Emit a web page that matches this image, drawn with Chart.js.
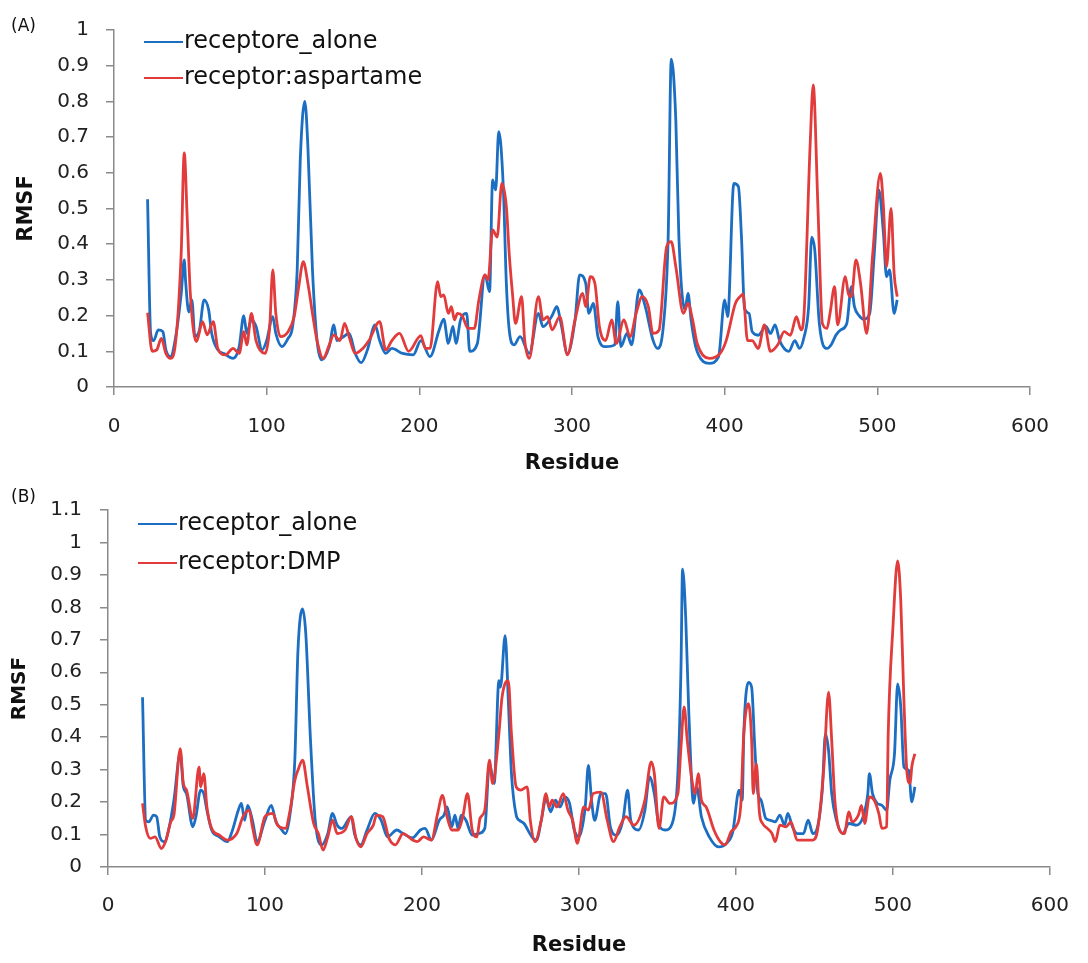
<!DOCTYPE html>
<html>
<head>
<meta charset="utf-8">
<script src="https://cdn.jsdelivr.net/npm/chart.js@4.4.1/dist/chart.umd.min.js"></script>
<style>
  body { margin: 0; background: #fff; }
  .panel { position: absolute; left: 0; }
  #panelA { top: 0; }
  #panelB { top: 480px; }
</style>
</head>
<body>
<div class="panel" id="panelA"><canvas id="chartA" width="1088" height="480"></canvas></div>
<div class="panel" id="panelB"><canvas id="chartB" width="1088" height="483"></canvas></div>
<script>
// panel A: receptor alone vs receptor:aspartame
const aloneResA = [22,24,26,29,32,34,37,40,44,46,47,49,51,53,56,59,62,64,68,72,78,82,85,87,90,93,97,100,104,106,110,114,117,120,122,125,127,130,133,136,141,144,146,150,154,158,162,166,171,174,178,182,189,196,201,207,213,216,219,222,224,227,231,233,238,243,246,248,250,252,255,257,259,262,266,272,278,281,287,290,293,297,302,305,309,311,314,317,322,328,330,332,336,339,344,348,353,356,360,363,365,368,370,374,376,378,381,386,390,396,400,402,406,409,411,413,416,418,422,427,430,433,436,442,446,449,452,455,457,459,462,467,470,473,476,480,483,485,488,491,495,498,501,504,506,508,511,513];
const aloneRmsfA = [0.526,0.15,0.13,0.16,0.155,0.104,0.085,0.13,0.26,0.356,0.29,0.21,0.244,0.141,0.16,0.244,0.216,0.15,0.104,0.094,0.08,0.113,0.2,0.15,0.188,0.17,0.104,0.13,0.197,0.15,0.113,0.136,0.17,0.328,0.636,0.8,0.673,0.328,0.13,0.076,0.113,0.174,0.13,0.14,0.15,0.094,0.068,0.104,0.174,0.13,0.094,0.108,0.094,0.09,0.13,0.085,0.16,0.19,0.122,0.17,0.122,0.188,0.206,0.10,0.122,0.314,0.267,0.58,0.552,0.715,0.56,0.29,0.155,0.118,0.141,0.094,0.206,0.169,0.2,0.225,0.173,0.094,0.188,0.314,0.29,0.206,0.234,0.141,0.113,0.118,0.239,0.113,0.15,0.118,0.272,0.225,0.132,0.108,0.178,0.421,0.918,0.748,0.421,0.216,0.262,0.188,0.113,0.071,0.066,0.085,0.244,0.197,0.57,0.561,0.421,0.22,0.206,0.155,0.145,0.17,0.15,0.174,0.13,0.1,0.13,0.108,0.14,0.225,0.42,0.384,0.178,0.108,0.12,0.146,0.16,0.178,0.281,0.225,0.2,0.19,0.206,0.374,0.552,0.43,0.309,0.328,0.206,0.244];

const aspartameRes = [22,25,28,31,34,37,40,44,46,48,50,54,58,61,65,68,73,78,82,85,87,90,93,99,102,104,106,109,114,118,121,124,127,130,133,137,141,144,148,151,154,158,163,167,174,178,182,187,193,201,204,207,212,214,216,219,221,223,225,228,232,236,239,243,245,248,251,254,257,259,261,263,267,269,272,278,281,284,287,292,297,302,307,309,312,315,318,322,326,329,334,338,342,346,350,353,357,362,365,368,373,376,379,382,390,397,401,407,410,412,415,418,422,426,430,435,439,443,447,450,452,456,458,461,464,467,469,472,474,479,481,483,486,489,493,497,502,504,506,509,511,513];
const aspartameRmsf = [0.208,0.1,0.104,0.136,0.094,0.08,0.113,0.374,0.656,0.468,0.262,0.127,0.183,0.146,0.183,0.108,0.09,0.108,0.094,0.155,0.118,0.206,0.13,0.094,0.17,0.328,0.206,0.141,0.155,0.197,0.281,0.351,0.29,0.206,0.13,0.08,0.118,0.146,0.13,0.178,0.141,0.094,0.108,0.13,0.183,0.104,0.13,0.15,0.1,0.144,0.108,0.108,0.295,0.253,0.258,0.206,0.225,0.188,0.206,0.2,0.164,0.164,0.244,0.314,0.3,0.44,0.42,0.57,0.505,0.365,0.262,0.178,0.253,0.132,0.08,0.253,0.188,0.197,0.16,0.197,0.09,0.188,0.262,0.225,0.309,0.29,0.168,0.13,0.188,0.122,0.188,0.141,0.206,0.253,0.225,0.15,0.159,0.393,0.407,0.337,0.206,0.234,0.188,0.122,0.08,0.094,0.13,0.234,0.253,0.26,0.13,0.13,0.108,0.174,0.1,0.12,0.155,0.145,0.197,0.16,0.206,0.68,0.846,0.515,0.178,0.164,0.206,0.281,0.174,0.309,0.262,0.253,0.356,0.29,0.15,0.374,0.598,0.505,0.337,0.5,0.318,0.253];

// panel B: receptor alone vs receptor:DMP
const aloneResB = [22,24,26,29,31,33,36,39,42,46,48,50,54,56,59,61,63,66,71,76,79,83,85,87,89,92,95,100,104,107,110,113,116,119,121,124,126,129,132,136,140,143,146,149,155,157,161,165,170,174,178,184,188,194,199,202,206,211,214,216,219,221,223,225,228,232,236,240,243,246,249,250,253,255,257,260,262,265,270,273,276,279,282,285,288,291,294,297,300,304,306,308,310,314,317,320,324,328,331,333,338,342,345,348,351,355,360,363,365,366,368,370,373,375,378,383,389,394,398,402,404,405,408,410,412,414,416,419,422,425,428,431,433,436,439,443,446,449,452,455,457,459,461,464,468,472,477,481,484,485,487,490,493,496,498,501,503,505,507,510,512,514];
const aloneRmsfB = [0.523,0.144,0.139,0.16,0.155,0.093,0.078,0.124,0.206,0.35,0.247,0.226,0.124,0.155,0.237,0.226,0.175,0.114,0.093,0.078,0.109,0.175,0.196,0.144,0.19,0.144,0.078,0.144,0.19,0.139,0.119,0.103,0.165,0.329,0.667,0.795,0.718,0.39,0.144,0.068,0.103,0.165,0.129,0.119,0.155,0.103,0.068,0.114,0.165,0.144,0.093,0.114,0.103,0.09,0.114,0.119,0.083,0.144,0.16,0.185,0.124,0.16,0.119,0.16,0.144,0.098,0.103,0.119,0.318,0.257,0.574,0.554,0.713,0.513,0.288,0.16,0.144,0.134,0.093,0.083,0.144,0.211,0.17,0.206,0.185,0.216,0.196,0.114,0.093,0.185,0.313,0.206,0.144,0.226,0.226,0.124,0.098,0.144,0.237,0.144,0.114,0.175,0.278,0.226,0.129,0.114,0.144,0.288,0.615,0.918,0.769,0.472,0.196,0.247,0.155,0.093,0.062,0.073,0.109,0.237,0.206,0.41,0.569,0.554,0.37,0.226,0.206,0.15,0.144,0.139,0.16,0.129,0.165,0.124,0.103,0.103,0.144,0.103,0.124,0.237,0.41,0.359,0.226,0.144,0.103,0.134,0.129,0.155,0.226,0.288,0.226,0.196,0.19,0.175,0.267,0.349,0.564,0.493,0.308,0.298,0.201,0.247];

const dmpRes = [22,24,27,30,34,37,40,42,46,48,50,54,58,59,61,63,66,71,76,82,86,90,92,95,100,105,108,113,116,119,121,124,127,131,134,137,140,143,146,151,155,158,161,165,169,171,175,179,183,188,194,197,201,206,210,213,216,219,223,226,229,232,235,237,240,243,245,249,251,255,257,260,263,267,269,272,276,279,281,283,286,290,293,296,299,303,306,309,314,318,322,326,330,335,342,346,348,351,354,358,363,365,367,369,372,374,376,378,381,386,390,393,397,400,403,405,408,410,411,413,415,417,420,423,425,428,432,435,439,445,449,452,456,459,461,463,466,469,472,474,478,480,482,485,488,491,493,496,497,500,503,505,507,509,511,512,514];
const dmpRmsf = [0.196,0.124,0.088,0.093,0.057,0.083,0.139,0.16,0.365,0.257,0.237,0.15,0.308,0.247,0.288,0.185,0.119,0.098,0.083,0.103,0.155,0.175,0.124,0.068,0.155,0.165,0.129,0.119,0.175,0.267,0.298,0.329,0.247,0.134,0.103,0.052,0.093,0.144,0.103,0.114,0.155,0.088,0.062,0.103,0.129,0.16,0.155,0.088,0.068,0.103,0.083,0.078,0.093,0.083,0.165,0.221,0.155,0.114,0.114,0.155,0.226,0.114,0.093,0.15,0.175,0.329,0.257,0.41,0.523,0.574,0.41,0.247,0.237,0.247,0.144,0.078,0.144,0.226,0.185,0.206,0.185,0.226,0.175,0.144,0.073,0.185,0.175,0.226,0.231,0.144,0.078,0.124,0.155,0.129,0.206,0.324,0.288,0.119,0.216,0.196,0.226,0.37,0.493,0.39,0.267,0.226,0.288,0.206,0.185,0.114,0.078,0.068,0.109,0.124,0.185,0.41,0.503,0.39,0.226,0.318,0.165,0.134,0.119,0.103,0.078,0.129,0.124,0.139,0.083,0.083,0.083,0.114,0.308,0.539,0.39,0.206,0.114,0.103,0.17,0.139,0.16,0.19,0.134,0.216,0.206,0.165,0.119,0.124,0.41,0.738,0.943,0.82,0.513,0.288,0.257,0.308,0.349];

const labelsA = ["receptore_alone", "receptor:aspartame"];
const labelsB = ["receptor_alone", "receptor:DMP"];

const BLUE = "#1b6ec2";
const RED = "#e23b3c";
const AXIS = "#8a8a8a";
const FONT = "'DejaVu Sans', sans-serif";

Chart.defaults.font.family = FONT;
Chart.defaults.color = "#1a1a1a";

function toPoints(xs, ys) {
  return xs.map((x, i) => ({ x: x, y: ys[i] }));
}

// legend lines + panel letter, drawn inside the plot
const lineLegend = {
  id: "lineLegend",
  afterDatasetsDraw(chart, args, opts) {
    const { ctx, chartArea } = chart;
    ctx.save();
    ctx.textBaseline = "middle";
    ctx.textAlign = "left";
    ctx.fillStyle = "#111";
    ctx.font = `${opts.size}px ${FONT}`;
    chart.data.datasets.forEach((ds, i) => {
      const x = chartArea.left + opts.left;
      const y = chartArea.top + opts.top + i * opts.gap;
      ctx.strokeStyle = ds.borderColor;
      ctx.lineWidth = 2;
      ctx.beginPath();
      ctx.moveTo(x, y);
      ctx.lineTo(x + opts.lineLen, y);
      ctx.stroke();
      ctx.fillText(ds.label, x + opts.lineLen + 1, y);
    });
    ctx.font = `17px ${FONT}`;
    ctx.fillText(opts.panel, 11, opts.panelY);
    ctx.restore();
  },
};

function makePanel(id, cfg) {
  return new Chart(document.getElementById(id), {
    type: "line",
    data: {
      datasets: [
        {
          label: cfg.labels[0],
          data: toPoints(cfg.blueX, cfg.blueY),
          borderColor: BLUE,
          backgroundColor: BLUE,
          borderWidth: 2.8,
          pointRadius: 0,
          cubicInterpolationMode: "monotone",
          order: 1,
        },
        {
          label: cfg.labels[1],
          data: toPoints(cfg.redX, cfg.redY),
          borderColor: RED,
          backgroundColor: RED,
          borderWidth: 2.8,
          pointRadius: 0,
          cubicInterpolationMode: "monotone",
          order: 0,
        },
      ],
    },
    options: {
      responsive: false,
      animation: false,
      events: [],
      layout: { padding: cfg.padding },
      plugins: {
        legend: { display: false },
        tooltip: { enabled: false },
        lineLegend: cfg.legend,
      },
      scales: {
        x: {
          type: "linear",
          min: 0,
          max: 600,
          afterFit: (scale) => { scale.height = cfg.xHeight; },
          ticks: { stepSize: 100, padding: cfg.xPad, font: { size: 20 }, color: "#222" },
          grid: { drawOnChartArea: false, tickLength: 8, color: AXIS, lineWidth: 1.5 },
          border: { color: AXIS, width: 1.5 },
          title: {
            display: true,
            text: "Residue",
            font: { size: 21, weight: "bold" },
            color: "#111",
            padding: { top: 0, bottom: cfg.xTitlePad },
          },
        },
        y: {
          min: 0,
          max: cfg.yMax,
          afterFit: (scale) => { scale.width = cfg.yWidth; },
          ticks: {
            stepSize: 0.1,
            padding: cfg.yPad,
            font: { size: 20 },
            color: "#222",
            callback: (v) => String(Math.round(v * 10) / 10),
          },
          grid: { drawOnChartArea: false, tickLength: 8, color: AXIS, lineWidth: 1.5 },
          border: { color: AXIS, width: 1.5 },
          title: {
            display: true,
            text: "RMSF",
            font: { size: cfg.yTitleSize, weight: "bold" },
            color: "#111",
            padding: { top: cfg.yTitlePad, bottom: 0 },
          },
        },
      },
    },
    plugins: [lineLegend],
  });
}

makePanel("chartA", {
  labels: labelsA,
  blueX: aloneResA, blueY: aloneRmsfA,
  redX: aspartameRes, redY: aspartameRmsf,
  yMax: 1,
  padding: { left: 0, right: 58, top: 30, bottom: 0 },
  yWidth: 114, xHeight: 93,
  xPad: 20, yPad: 17,
  xTitlePad: 4, yTitlePad: 14, yTitleSize: 21,
  legend: { size: 24, left: 30, top: 12, gap: 36, lineLen: 39, panel: "(A)", panelY: 27 },
});

makePanel("chartB", {
  labels: labelsB,
  blueX: aloneResB, blueY: aloneRmsfB,
  redX: dmpRes, redY: dmpRmsf,
  yMax: 1.1,
  padding: { left: 0, right: 21, top: 29, bottom: 0 },
  yWidth: 108, xHeight: 96,
  xPad: 19, yPad: 18,
  xTitlePad: 5, yTitlePad: 8, yTitleSize: 20,
  legend: { size: 24, left: 30, top: 14, gap: 39, lineLen: 39, panel: "(B)", panelY: 18 },
});
</script>
</body>
</html>
